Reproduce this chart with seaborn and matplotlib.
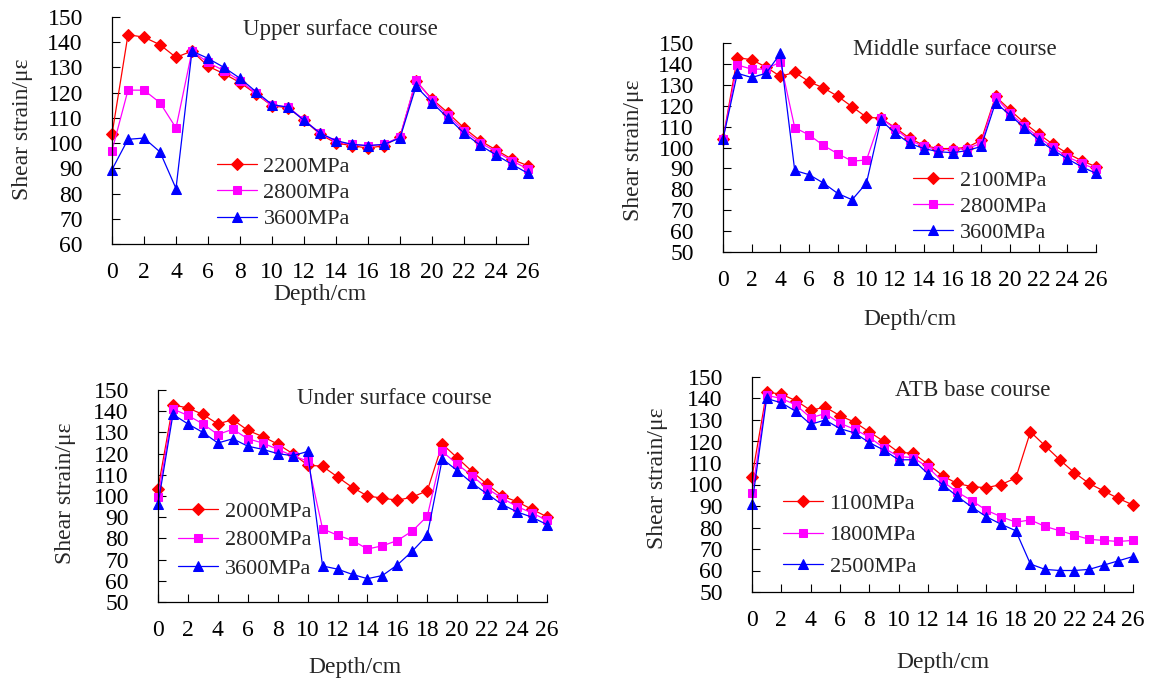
import matplotlib
matplotlib.use("Agg")
import matplotlib.pyplot as plt
import numpy as np
import seaborn as sns

depth = np.arange(0, 27)

# Upper surface course
upper_2200 = [103.5, 143, 142, 139, 134, 136.5, 130.5, 127.5, 124, 119.5, 114.8, 114, 109.2, 103.5,
              100, 99, 98, 99, 102.5, 124.5, 117.5, 112, 106, 101, 97.3, 93.6, 91]
upper_2800 = [97, 121, 121, 116, 106, 136.5, 132, 128.7, 124.8, 119.7, 115, 114.4, 109.2, 104,
              100.5, 99.5, 99, 99.5, 102.5, 125, 117, 111, 105, 100.2, 96.6, 93, 89.7]
upper_3600 = [89.5, 101.5, 102, 96.5, 82, 136.5, 133.6, 130, 125.7, 120.4, 115.3, 114.2, 109, 104,
              101, 99.5, 99, 99.5, 102, 122.5, 116, 110, 104, 99.2, 95.3, 91.6, 88]

# Middle surface course
middle_2100 = [104, 143, 142, 138.5, 134, 136, 131.5, 128.5, 124.5, 119.5, 114.5, 114, 109.5, 104.5,
               101, 99.5, 99.5, 100, 103.5, 124.5, 118, 111.8, 106.5, 101.5, 97.2, 93.7, 90.8]
middle_2800 = [104, 139.5, 137.5, 137.5, 141, 109.5, 106, 101, 97, 93.5, 94, 114, 109, 103.5,
               100.5, 99, 99, 99.5, 102, 124, 116.5, 110.4, 104.9, 100.1, 95.6, 92.4, 89.6]
middle_3600 = [104, 135.5, 133.5, 135.5, 145, 89, 87, 83, 78, 75, 83, 113, 107, 102,
               99.5, 98, 97.5, 98.5, 100.5, 121.5, 115.5, 109.5, 103.6, 98.8, 94.6, 90.8, 87.6]

# Under surface course
under_2000 = [103.5, 143, 141.5, 138.5, 134, 136, 131, 128, 124.5, 120, 114.6, 114, 109, 104,
              100, 99, 98, 99.5, 102.5, 124.5, 118, 111.5, 105.5, 100, 97.3, 93.7, 90.2]
under_2800 = [99.5, 141, 138, 134, 129, 131.5, 127, 125, 122, 119, 116.5, 84.5, 81.5, 79,
              75, 76.5, 79, 83.5, 90.5, 121, 115, 109.5, 103.5, 99, 95, 92, 88.5]
under_3600 = [96, 138.5, 134, 130, 125, 127, 123.5, 122, 120, 119, 121, 67, 65.5, 63,
              61, 62.5, 67.5, 74, 81.5, 117.5, 112, 106, 101, 96, 92.5, 90, 86.5]

# ATB base course
atb_1100 = [103.5, 143, 142, 139, 134.5, 136, 132, 129, 124.5, 120, 115, 114.5, 109.5, 104,
            100.5, 99, 98.5, 100, 103, 124.5, 118, 111.5, 105.5, 100.5, 97, 93.5, 90.5]
atb_1800 = [96, 141.5, 140, 137, 131, 133, 128.5, 125.7, 122, 117, 113, 112.5, 108, 101.5,
            96.5, 92.5, 88, 85, 82.5, 83.5, 80.5, 78.5, 76.5, 74.5, 74, 73.5, 74]
atb_2500 = [91, 140, 138, 134, 128, 130, 126, 124, 119.5, 116, 111.5, 111.5, 105, 100,
            94.5, 89.5, 85, 81.5, 78.5, 63, 60.5, 60, 60, 60.5, 62.5, 64.5, 66.5]

titles = ["Upper surface course", "Middle surface course", "Under surface course", "ATB base course"]
series = [
    (upper_2200, upper_2800, upper_3600),
    (middle_2100, middle_2800, middle_3600),
    (under_2000, under_2800, under_3600),
    (atb_1100, atb_1800, atb_2500),
]
labels = [
    ("2200MPa", "2800MPa", "3600MPa"),
    ("2100MPa", "2800MPa", "3600MPa"),
    ("2000MPa", "2800MPa", "3600MPa"),
    ("1100MPa", "1800MPa", "2500MPa"),
]
ymins = [60, 50, 50, 50]

colors = ["#FF0000", "#FF00FF", "#0000FF"]
markers = ["D", "s", "^"]
msizes = [6, 6, 7.5]

sns.set_style("ticks")
plt.rcParams["font.family"] = ["Liberation Serif", "DejaVu Serif"]

W, H = 1153, 687
fig = plt.figure(figsize=(W / 100, H / 100), dpi=100)

# axes boxes in pixels: left, right, top, bottom
boxes = [(112, 528, 17, 244), (723, 1096, 43, 252), (158, 547, 390, 602), (752, 1133, 377, 592)]
title_pos = [(0.548, 0.943), (0.622, 0.967), (0.607, 0.962), (0.58, 0.935)]
ylabel_pos = [(-0.216, 0.507), (-0.239, 0.488), (-0.237, 0.514), (-0.249, 0.53)]
xlabel_pos = [(0.5, -0.222), (0.5, -0.325), (0.506, -0.311), (0.5, -0.33)]
legend_pos = [(0.252, 0.385), (0.509, 0.39), (0.051, 0.475), (0.081, 0.46)]
legend_sp = [0.25, 0.25, 0.36, 0.5]

for i, (l, r, t, b) in enumerate(boxes):
    ax = fig.add_axes([l / W, 1 - b / H, (r - l) / W, (b - t) / H])
    for vals, lab, c, m, ms in zip(series[i], labels[i], colors, markers, msizes):
        sns.lineplot(x=depth, y=vals, ax=ax, color=c, marker=m, markersize=ms,
                     markeredgecolor=c, linewidth=0.9, label=lab, clip_on=False)
    ax.set_xlim(0, 26)
    ax.set_ylim(ymins[i], 150)
    ax.set_xticks(np.arange(0, 27, 2))
    ax.set_yticks(np.arange(ymins[i], 151, 10))
    ax.tick_params(direction="in", length=6, width=0.8, labelsize=17, colors="black")
    ax.tick_params(axis="x", pad=13)
    ax.tick_params(axis="y", pad=21)
    sns.despine(ax=ax)
    for s in ("left", "bottom"):
        ax.spines[s].set_color("black")
        ax.spines[s].set_linewidth(0.9)
    ax.text(title_pos[i][0], title_pos[i][1], titles[i], transform=ax.transAxes,
            ha="center", va="center", fontsize=16.5)
    ax.set_ylabel("Shear strain/με", fontsize=17, va="center")
    ax.yaxis.set_label_coords(*ylabel_pos[i])
    ax.set_xlabel("Depth/cm", fontsize=17, va="center")
    ax.xaxis.set_label_coords(*xlabel_pos[i])
    ax.legend(loc="upper left", bbox_to_anchor=legend_pos[i], frameon=False, fontsize=16,
              borderpad=0, borderaxespad=0, handlelength=1.8, handletextpad=0.3,
              labelspacing=legend_sp[i], numpoints=1)

fig.savefig("out.png", dpi=100)
